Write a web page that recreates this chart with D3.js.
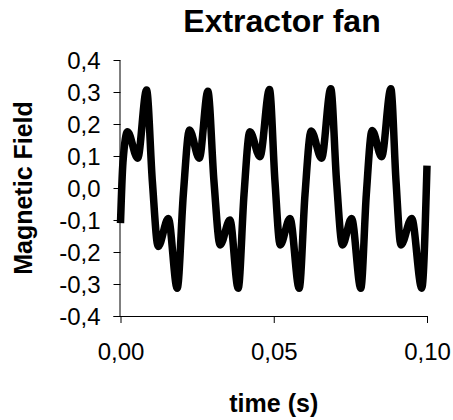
<!DOCTYPE html>
<html>
<head>
<meta charset="utf-8">
<style>
  body { margin:0; background:#fff; }
  svg { font-family: "Liberation Sans", Arial, sans-serif; }
  .axis path, .axis line { stroke:#000; stroke-width:1px; }
  .axis text { font-size:24px; fill:#000; }
  .title { font-size:32px; font-weight:bold; }
  .label { font-size:25px; font-weight:bold; }
  .wave { fill:none; stroke:#000; stroke-width:7.5px; stroke-linejoin:round; stroke-linecap:butt; }
</style>
</head>
<body>
<svg width="453" height="420"></svg>
<script src="https://d3js.org/d3.v7.min.js"></script>
<script>

// time (s)
var time = [
  0.0000, 0.0008, 0.0023, 0.0056, 0.0085, 0.0104, 0.0123, 0.0156, 0.0185, 0.0205,
  0.0225, 0.0257, 0.0285, 0.0305, 0.0325, 0.0357, 0.0384, 0.0403,
  0.0422, 0.0455, 0.0486, 0.0504, 0.0521, 0.0553, 0.0583, 0.0602,
  0.0622, 0.0656, 0.0686, 0.0705, 0.0724, 0.0754, 0.0784, 0.0802,
  0.0821, 0.0852, 0.0882, 0.0899, 0.0915, 0.0950, 0.0983, 0.1000
]
// magnetic field
var field = [
  -0.110, 0.080, 0.176, 0.093, 0.306, 0.020, -0.183, -0.095, -0.313, -0.020,
  0.181, 0.093, 0.302, 0.020, -0.178, -0.100, -0.313, -0.020,
  0.176, 0.098, 0.308, 0.020, -0.178, -0.095, -0.313, -0.020,
  0.178, 0.093, 0.310, 0.020, -0.178, -0.095, -0.313, -0.020,
  0.180, 0.098, 0.310, 0.020, -0.178, -0.095, -0.313, 0.070
]
var xTicks = [0, 0.05, 0.10]
var yTicks = [-0.4, -0.3, -0.2, -0.1, 0, 0.1, 0.2, 0.3, 0.4]

var svg = d3.select("svg"),
    margin = {top: 60, right: 26, bottom: 104, left: 120.5},
    width = 453 - margin.left - margin.right,
    height = 420 - margin.top - margin.bottom

// comma decimals, plain hyphen for minus
var comma = function(n) {
  return function(d) { return d.toFixed(n).replace(".", ",").replace(/^-(0,0+)$/, "$1") }
}

var x = d3.scaleLinear().domain([0, 0.1]).range([0, width])
var y = d3.scaleLinear().domain([-0.4, 0.4]).range([height, 0])

var g = svg.append("g")
    .attr("transform", "translate(" + margin.left + "," + margin.top + ")")

var gy = g.append("g")
    .attr("class", "axis")
    .call(d3.axisLeft(y).tickValues(yTicks).tickSize(7).tickPadding(13).tickFormat(comma(1)))
gy.select(".domain").attr("d", "M-0.5,0.5V" + (height + 0.5))

var gx = g.append("g")
    .attr("class", "axis")
    .attr("transform", "translate(0," + height + ")")
    .call(d3.axisBottom(x).tickValues(xTicks).tickSize(7).tickPadding(20).tickFormat(comma(2)))
gx.select(".domain").attr("d", "M-7,0.5H" + (width + 0.5))

gy.selectAll("text").attr("dy", "0.36em")

var line = d3.line()
    .x(function(d, i) { return x(time[i]) })
    .y(function(d) { return y(d) })
    .curve(d3.curveMonotoneX)

g.append("path")
    .attr("class", "wave")
    .attr("d", line(field))

svg.append("text")
    .attr("class", "title")
    .attr("x", 282)
    .attr("y", 32)
    .attr("text-anchor", "middle")
    .text("Extractor fan")

svg.append("text")
    .attr("class", "label")
    .attr("x", margin.left + width / 2)
    .attr("y", 412)
    .attr("text-anchor", "middle")
    .text("time (s)")

svg.append("text")
    .attr("class", "label")
    .attr("transform", "translate(32," + (margin.top + y(0)) + ") rotate(-90)")
    .attr("text-anchor", "middle")
    .text("Magnetic Field")

</script>
</body>
</html>
